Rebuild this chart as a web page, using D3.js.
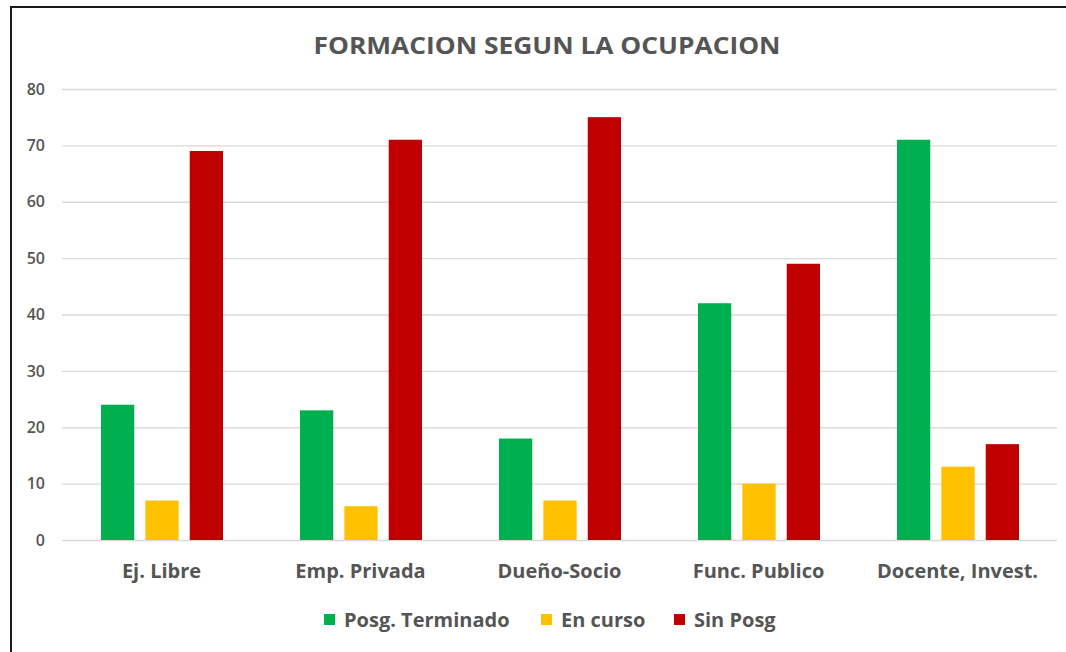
<!DOCTYPE html>
<html><head><meta charset="utf-8">
<script src="https://cdnjs.cloudflare.com/ajax/libs/d3/7.8.5/d3.min.js"></script>
<style>
html,body{margin:0;padding:0;background:#fff;}
svg{display:block;font-family:"Open Sans","Liberation Sans",sans-serif;}
</style></head>
<body>
<svg id="chart" width="1066" height="652"></svg>
<script>
const categories = ["Ej. Libre", "Emp. Privada", "Dueño-Socio", "Func. Publico", "Docente, Invest."];
const seriesNames = ["Posg. Terminado", "En curso", "Sin Posg"];
const posgTerminado = [24, 23, 18, 42, 71];
const enCurso = [7, 6, 7, 10, 13];
const sinPosg = [69, 71, 75, 49, 17];
const yTicks = [0, 10, 20, 30, 40, 50, 60, 70, 80];
const colors = ["#00b050", "#ffc000", "#c00000"];
const title = "FORMACION SEGUN LA OCUPACION";

(function () {
const series = [posgTerminado, enCurso, sinPosg];
const svg = d3.select("#chart");
const W = 1066, H = 652;
const pLeft = 62, pRight = 1057, pTop = 89, pBottom = 540;
const textColor = "#555555";
const font = "'Open Sans','Liberation Sans',sans-serif";

// frame (left and top edges visible)
svg.append("line").attr("x1", 11).attr("x2", 11).attr("y1", 6).attr("y2", H).attr("stroke", "#1a1a1a").attr("stroke-width", 2);
svg.append("line").attr("x1", 10).attr("x2", W).attr("y1", 7).attr("y2", 7).attr("stroke", "#1a1a1a").attr("stroke-width", 2);

const y = d3.scaleLinear().domain([0, 80]).range([pBottom, pTop]);
const x0 = d3.scaleBand().domain(categories).range([pLeft, pRight]).paddingInner(0).paddingOuter(0);
const x1 = d3.scaleBand().domain(seriesNames).range([39, 161]).paddingInner(0.25).paddingOuter(0);

// gridlines
svg.append("g").selectAll("line").data(yTicks).join("line")
  .attr("x1", pLeft).attr("x2", pRight)
  .attr("y1", d => y(d) + 0.5).attr("y2", d => y(d) + 0.5)
  .attr("stroke", "#d9d9d9").attr("stroke-width", 1.3);

// y axis labels
const yAxis = d3.axisLeft(y).tickValues(yTicks).tickSize(0).tickPadding(0);
const ya = svg.append("g").attr("transform", `translate(45,0)`).call(yAxis);
ya.select(".domain").remove();
ya.selectAll("text").attr("fill", textColor).style("font-size", "16px").style("font-weight", "600").style("font-family", font);

// bars
const groups = svg.append("g").selectAll("g").data(categories).join("g")
  .attr("transform", d => `translate(${x0(d)},0)`);
groups.selectAll("rect").data((c, i) => seriesNames.map((s, j) => ({s, j, v: series[j][i]}))).join("rect")
  .attr("x", d => x1(d.s))
  .attr("width", x1.bandwidth())
  .attr("y", d => y(d.v))
  .attr("height", d => y(0) - y(d.v))
  .attr("fill", d => colors[d.j]);

// x axis labels
const xAxis = d3.axisBottom(x0).tickSize(0).tickPadding(0);
const xa = svg.append("g").attr("transform", `translate(0,564)`).call(xAxis);
xa.select(".domain").remove();
xa.selectAll("text").attr("fill", textColor).style("font-size", "20px").style("font-weight", "bold").style("font-family", font);

// title
svg.append("text").attr("x", 547).attr("y", 54).attr("text-anchor", "middle")
  .attr("fill", textColor).style("font-size", "24px").style("font-weight", "bold")
  .attr("textLength", 467).attr("lengthAdjust", "spacingAndGlyphs")
  .text(title);

// legend
const legendX = [324, 541, 674];
const leg = svg.append("g").selectAll("g").data(seriesNames).join("g")
  .attr("transform", (d, i) => `translate(${legendX[i]},620)`);
leg.append("rect").attr("x", 0).attr("y", -6).attr("width", 11).attr("height", 11).attr("fill", (d, i) => colors[i]);
leg.append("text").attr("x", 20).attr("y", 7).attr("fill", textColor).style("font-size", "20px").style("font-weight", "bold").text(d => d);
})();
</script>
</body></html>
